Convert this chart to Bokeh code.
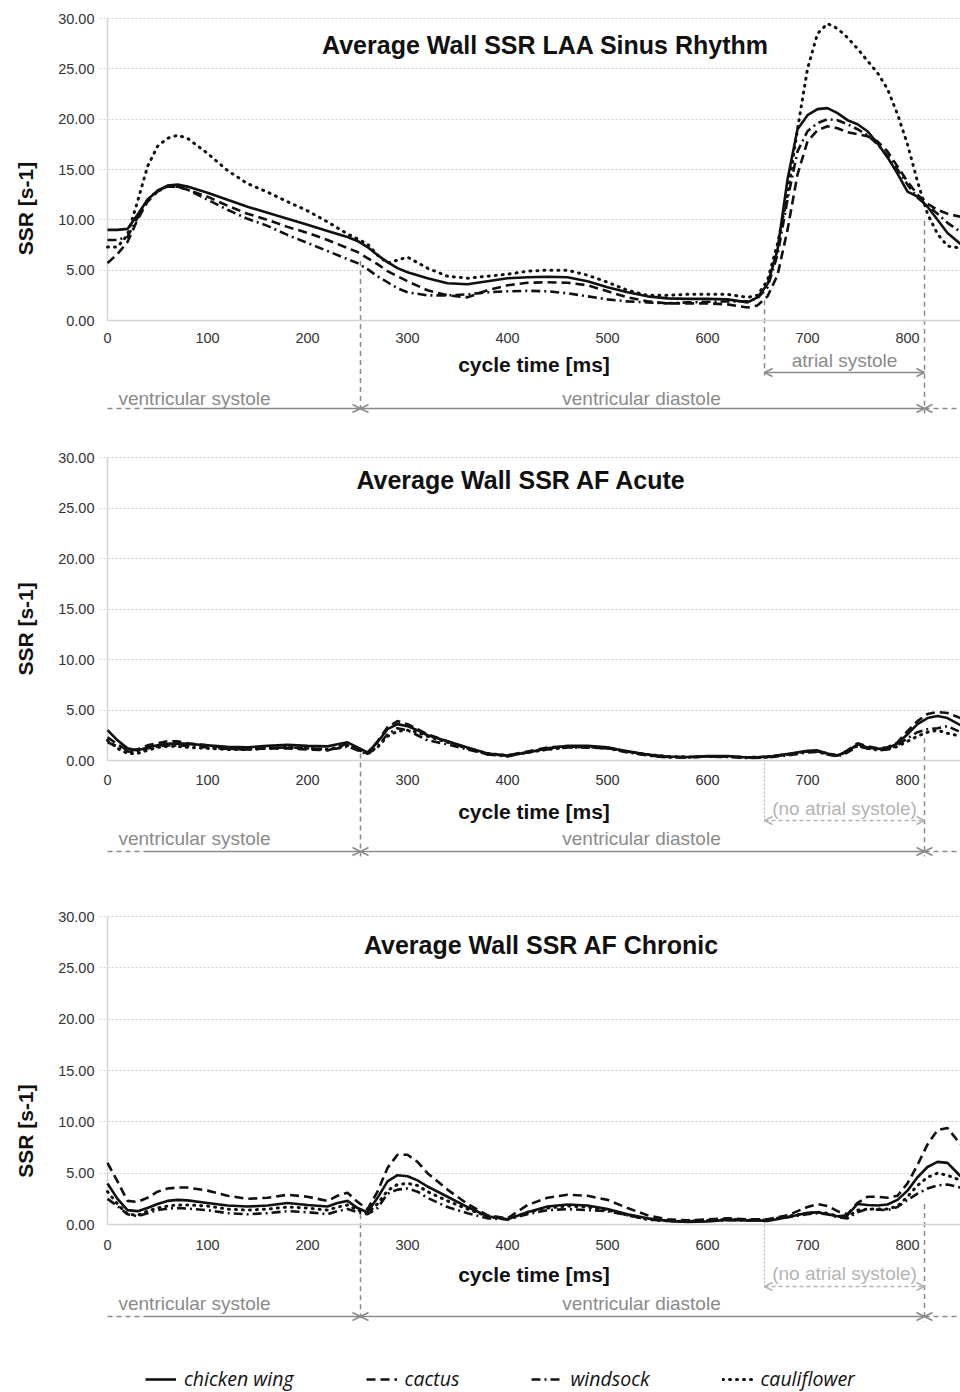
from bokeh.plotting import figure
from bokeh.layouts import column, row
from bokeh.models import (Range1d, FixedTicker, PrintfTickFormatter, Label, Arrow,
                          OpenHead, Legend, LegendItem)
from bokeh.core.properties import value
from bokeh.embed import file_html
from bokeh.resources import INLINE
import math

# ---------------- data ----------------
series_names = ["chicken wing", "cactus", "windsock", "cauliflower"]
x_ticks = [0, 100, 200, 300, 400, 500, 600, 700, 800]
y_ticks = [0, 5, 10, 15, 20, 25, 30]
titles = ["Average Wall SSR LAA Sinus Rhythm", "Average Wall SSR AF Acute",
          "Average Wall SSR AF Chronic"]
x_label = "cycle time [ms]"
y_label = "SSR [s-1]"
phase_labels = ["ventricular systole", "ventricular diastole"]
atrial_labels = ["atrial systole", "(no atrial systole)", "(no atrial systole)"]
phase_bounds = [253, 657, 817]   # end of systole, start of atrial systole, end of cycle (ms)

T1 = [0, 10, 20, 30, 40, 50, 60, 70, 80, 100, 120, 140, 160, 180, 200, 220, 240,
      250, 260, 270, 280, 290, 300, 320, 340, 360, 380, 400, 420, 440, 460, 480, 500,
      520, 540, 560, 580, 600, 620, 640, 650, 660, 670, 680, 690, 700, 710, 720, 730,
      740, 750, 760, 770, 780, 790, 800, 810, 820, 830, 840, 853]
cw1 = [9.0, 9.0, 9.1, 10.5, 12.0, 12.9, 13.4, 13.5, 13.3, 12.7, 12.0, 11.3, 10.7, 10.1, 9.5, 8.9, 8.3,
       7.9, 7.3, 6.5, 5.8, 5.2, 4.8, 4.2, 3.7, 3.6, 3.9, 4.2, 4.3, 4.35, 4.3, 3.9, 3.3,
       2.8, 2.4, 2.2, 2.15, 2.15, 2.1, 1.8, 2.3, 3.6, 7.0, 14.0, 19.0, 20.4, 21.0, 21.1, 20.6,
       19.9, 19.5, 18.8, 17.6, 16.2, 14.6, 12.8, 12.3, 11.3, 10.0, 8.7, 7.6]
ca1 = [5.7, 6.6, 7.8, 10.0, 11.8, 12.8, 13.3, 13.3, 13.0, 12.3, 11.4, 10.6, 10.0, 9.3, 8.7, 8.0, 7.2,
       6.8, 6.2, 5.6, 4.9, 4.4, 3.9, 3.0, 2.5, 2.3, 3.0, 3.5, 3.75, 3.8, 3.75, 3.5, 2.9,
       2.3, 1.9, 1.7, 1.7, 1.7, 1.6, 1.3, 1.5, 2.4, 4.5, 9.0, 14.5, 17.8, 18.9, 19.3, 19.1,
       18.7, 18.5, 18.3, 17.8, 16.8, 15.3, 13.8, 12.5, 11.6, 11.0, 10.6, 10.3]
ws1 = [8.0, 8.0, 8.3, 10.2, 12.0, 12.9, 13.3, 13.3, 13.0, 12.0, 11.0, 10.1, 9.4, 8.5, 7.7, 6.9, 6.1,
       5.7, 5.1, 4.4, 3.8, 3.2, 2.8, 2.5, 2.5, 2.6, 2.8, 2.9, 2.95, 2.9, 2.7, 2.4, 2.1,
       1.9, 1.8, 1.7, 1.8, 1.85, 1.9, 1.9, 2.2, 3.3, 6.5, 12.0, 16.8, 18.8, 19.6, 20.0, 19.9,
       19.5, 19.0, 18.4, 17.5, 16.4, 15.0, 13.5, 12.2, 11.4, 10.6, 9.7, 8.8]
cf1 = [7.3, 7.3, 8.5, 11.8, 15.3, 17.3, 18.1, 18.4, 18.1, 16.6, 14.9, 13.6, 12.75, 11.8, 10.9, 9.8, 8.6,
       8.1, 7.6, 6.5, 5.7, 6.0, 6.3, 5.2, 4.4, 4.2, 4.4, 4.6, 4.9, 5.0, 5.0, 4.5, 3.8,
       3.0, 2.5, 2.5, 2.6, 2.6, 2.6, 2.3, 2.5, 4.0, 7.6, 12.5, 19.0, 25.0, 28.5, 29.5, 29.0,
       28.1, 27.0, 25.8, 24.6, 23.0, 20.5, 17.5, 13.8, 10.6, 8.6, 7.4, 7.2]

T2 = [0, 10, 20, 30, 40, 50, 60, 70, 80, 100, 120, 140, 160, 180, 200, 220, 230, 240,
      250, 260, 270, 280, 290, 300, 310, 320, 340, 360, 380, 400, 420, 440, 460, 480,
      500, 520, 540, 560, 580, 600, 620, 640, 660, 680, 700, 710, 720, 730, 740, 750,
      760, 770, 780, 790, 800, 810, 820, 830, 840, 853]
cw2 = [3.0, 2.0, 1.2, 1.0, 1.3, 1.5, 1.65, 1.7, 1.65, 1.5, 1.35, 1.3, 1.45, 1.55, 1.45, 1.4, 1.6, 1.8,
       1.3, 0.8, 1.8, 3.1, 3.6, 3.4, 3.0, 2.5, 1.9, 1.3, 0.7, 0.5, 0.8, 1.2, 1.45, 1.45,
       1.3, 0.9, 0.6, 0.4, 0.35, 0.45, 0.45, 0.3, 0.35, 0.65, 0.95, 1.0, 0.7, 0.5, 0.9, 1.6,
       1.3, 1.15, 1.2, 1.7, 2.6, 3.6, 4.2, 4.4, 4.2, 3.5]
ca2 = [2.3, 1.6, 1.0, 1.1, 1.5, 1.7, 1.9, 1.9, 1.7, 1.5, 1.2, 1.1, 1.2, 1.2, 1.1, 1.0, 1.3, 1.7,
       1.2, 0.7, 1.9, 3.3, 3.9, 3.6, 3.1, 2.6, 1.9, 1.2, 0.6, 0.5, 0.9, 1.3, 1.4, 1.3,
       1.2, 0.9, 0.5, 0.35, 0.3, 0.4, 0.4, 0.3, 0.4, 0.6, 0.9, 0.9, 0.7, 0.5, 1.0, 1.7,
       1.4, 1.2, 1.3, 1.8, 2.9, 3.9, 4.6, 4.8, 4.7, 4.2]
ws2 = [1.8, 1.4, 0.9, 0.8, 1.2, 1.4, 1.5, 1.5, 1.45, 1.3, 1.15, 1.1, 1.2, 1.3, 1.2, 1.1, 1.2, 1.4,
       1.0, 0.6, 1.4, 2.6, 3.2, 3.0, 2.5, 2.0, 1.6, 1.1, 0.6, 0.4, 0.8, 1.1, 1.3, 1.3,
       1.2, 0.8, 0.5, 0.3, 0.3, 0.4, 0.35, 0.25, 0.3, 0.5, 0.8, 0.85, 0.6, 0.4, 0.8, 1.4,
       1.2, 1.0, 1.1, 1.5, 2.2, 2.8, 3.1, 3.2, 3.4, 2.8]
cf2 = [2.0, 1.2, 0.7, 0.7, 1.0, 1.3, 1.4, 1.4, 1.3, 1.2, 1.1, 1.1, 1.2, 1.3, 1.2, 1.1, 1.3, 1.5,
       1.1, 0.7, 1.3, 2.4, 2.9, 3.0, 2.8, 2.4, 1.8, 1.2, 0.7, 0.5, 0.8, 1.1, 1.3, 1.35,
       1.25, 0.9, 0.6, 0.4, 0.35, 0.4, 0.4, 0.3, 0.35, 0.6, 0.9, 0.9, 0.6, 0.5, 0.9, 1.5,
       1.2, 1.1, 1.1, 1.4, 1.9, 2.4, 2.8, 3.0, 2.7, 2.4]

T3 = T2
cw3 = [4.0, 2.5, 1.4, 1.3, 1.6, 2.0, 2.3, 2.4, 2.35, 2.1, 1.85, 1.75, 1.85, 2.1, 1.9, 1.75, 2.1, 2.3,
       1.6, 1.2, 2.6, 4.2, 4.8, 4.7, 4.3, 3.7, 2.7, 1.7, 0.8, 0.5, 1.2, 1.75, 1.95, 1.85,
       1.5, 1.0, 0.6, 0.35, 0.25, 0.3, 0.45, 0.4, 0.35, 0.7, 1.15, 1.2, 1.0, 0.8, 0.9, 2.0,
       1.9, 1.85, 1.95, 2.4, 3.3, 4.6, 5.6, 6.1, 6.0, 4.7]
ca3 = [6.0, 4.2, 2.3, 2.2, 2.6, 3.2, 3.5, 3.6, 3.6, 3.3, 2.8, 2.5, 2.6, 2.9, 2.7, 2.3, 2.8, 3.1,
       2.2, 1.5, 3.2, 5.5, 6.8, 6.8, 6.1, 5.0, 3.4, 2.0, 0.9, 0.6, 1.9, 2.6, 2.9, 2.8,
       2.4, 1.6, 0.9, 0.5, 0.4, 0.5, 0.6, 0.5, 0.5, 0.9, 1.7, 2.0, 1.8, 1.3, 1.0, 2.1,
       2.7, 2.7, 2.6, 2.8, 4.0, 5.8, 7.8, 9.2, 9.4, 7.8]
ws3 = [2.5, 1.8, 1.0, 0.8, 1.1, 1.4, 1.55, 1.6, 1.55, 1.4, 1.1, 1.0, 1.1, 1.3, 1.2, 1.0, 1.3, 1.5,
       1.2, 1.0, 1.6, 3.0, 3.4, 3.5, 3.2, 2.6, 1.7, 1.1, 0.6, 0.5, 1.0, 1.4, 1.5, 1.4,
       1.3, 0.9, 0.5, 0.35, 0.3, 0.4, 0.45, 0.4, 0.45, 0.7, 1.0, 1.1, 1.0, 0.7, 0.6, 1.2,
       1.5, 1.45, 1.4, 1.7, 2.4, 3.0, 3.5, 3.8, 3.9, 3.6]
cf3 = [3.2, 2.0, 1.0, 0.9, 1.3, 1.6, 1.8, 1.9, 1.9, 1.8, 1.5, 1.4, 1.5, 1.7, 1.6, 1.4, 1.7, 1.9,
       1.4, 1.1, 2.0, 3.3, 3.9, 4.0, 3.8, 3.2, 2.3, 1.5, 0.8, 0.5, 1.2, 1.6, 1.8, 1.7,
       1.4, 0.9, 0.5, 0.35, 0.3, 0.4, 0.5, 0.45, 0.45, 0.8, 1.1, 1.2, 1.1, 0.8, 0.7, 1.4,
       1.5, 1.5, 1.5, 1.8, 2.7, 3.8, 4.6, 5.0, 4.8, 4.3]

# ---------------- styling ----------------
FONT = "Liberation Sans"
GRAY = "#8a8a8a"
LIGHT = "#b4b4b4"
AXIS = "#d4d4d4"
styles = [dict(line_dash="solid", line_width=2.6, line_cap="butt"),
          dict(line_dash="9 5", line_width=2.6, line_cap="butt"),
          dict(line_dash="9 4 2 4", line_width=2.6, line_cap="butt"),
          dict(line_dash="1 6", line_width=3.0, line_cap="round")]

panels = [
    dict(t=T1, ys=[cw1, ca1, ws1, cf1], H=430, top=15, y30=18, y0=320,
         title_x=438, title_dy=26, offs=(40, 52, 78, 88), vtops=(5.9, 2.0, 9.9), atrial=True,
         tick_so=12, lab_so=7, ylab_py=200),
    dict(t=T2, ys=[cw2, ca2, ws2, cf2], H=460, top=24, y30=27, y0=330,
         title_x=414, title_dy=22, offs=(48, 60, 78, 91), vtops=(0.7, 0.5, 2.2), atrial=False,
         tick_so=14, lab_so=12, ylab_py=184),
    dict(t=T3, ys=[cw3, ca3, ws3, cf3], H=502, top=23, y30=26, y0=334,
         title_x=434, title_dy=28, offs=(49, 62, 79, 92), vtops=(1.0, 0.3, 2.0), atrial=False,
         tick_so=15, lab_so=10, ylab_py=228),
]

XMIN, XMAX = -8, 853
LABW = 40          # width of the strip holding the vertical axis title
LEFT = 99          # left edge of the plotting frame
rows = []
for i, P in enumerate(panels):
    s = (P["y0"] - P["y30"]) / 30.0
    hi = 30 + (P["y30"] - P["top"]) / s
    lo = -(P["H"] - P["y0"]) / s

    # strip with the vertical axis title
    q = figure(width=LABW, height=P["H"], x_range=Range1d(0, LABW), y_range=Range1d(0, P["H"]),
               toolbar_location=None, output_backend="svg", x_axis_location=None,
               y_axis_location=None, min_border=0)
    q.outline_line_color = None
    q.grid.visible = False
    q.text(x=[25], y=[P["H"] - P["ylab_py"]], text=[y_label], angle=math.pi / 2,
           text_align="center", text_baseline="middle", text_font=value(FONT),
           text_font_size="21px", text_font_style="bold", text_color="#111111")

    p = figure(width=960 - LABW, height=P["H"], x_range=Range1d(XMIN, XMAX),
               y_range=Range1d(lo, hi), toolbar_location=None, output_backend="svg",
               min_border_left=LEFT - LABW, min_border_right=0, min_border_top=P["top"],
               min_border_bottom=0)
    p.outline_line_color = None
    p.background_fill_color = "white"
    p.border_fill_color = "white"

    # axes
    p.xaxis.fixed_location = 0
    p.xaxis.ticker = FixedTicker(ticks=x_ticks)
    p.xaxis.bounds = (0, XMAX)
    p.xaxis.axis_label = x_label
    p.yaxis.ticker = FixedTicker(ticks=y_ticks)
    p.yaxis.formatter = PrintfTickFormatter(format="%.2f")
    p.yaxis.bounds = (0, 30)
    for ax in (p.xaxis[0], p.yaxis[0]):
        ax.axis_line_color = AXIS
        ax.axis_line_width = 1.5
        ax.major_tick_out = 0
        ax.major_tick_in = 0
        ax.minor_tick_out = 0
        ax.minor_tick_in = 0
        ax.major_label_text_font = FONT
        ax.major_label_text_font_size = "14.5px"
        ax.major_label_text_color = "#333333"
        ax.axis_label_text_font = FONT
        ax.axis_label_text_font_size = "21px"
        ax.axis_label_text_font_style = "bold"
        ax.axis_label_text_color = "#111111"
    p.yaxis.axis_line_color = None
    p.xaxis.major_label_standoff = P["tick_so"]
    p.xaxis.axis_label_standoff = P["lab_so"]
    p.yaxis.major_label_standoff = 5

    p.xgrid.visible = False
    p.ygrid.ticker = FixedTicker(ticks=y_ticks[1:])
    p.ygrid.grid_line_color = "#cfcfcf"
    p.ygrid.grid_line_dash = "2 2"
    p.ygrid.grid_line_width = 1

    # vertical value-axis line at x = 0
    p.segment(x0=[0], y0=[0], x1=[0], y1=[30], line_color=AXIS, line_width=1.5)

    # title
    p.add_layout(Label(x=P["title_x"], y=30 - P["title_dy"] / s, text=titles[i],
                       text_align="center", text_baseline="middle", text_font=FONT,
                       text_font_size="25px", text_font_style="bold", text_color="#111111"))

    # phase annotations
    o_at_txt, o_at_arr, o_vs_txt, o_row = [-o / s for o in P["offs"]]
    bottom = o_row - 5 / s
    t_sys, t_atr, t_end = phase_bounds
    vt_sys, vt_atr, vt_end = P["vtops"]
    p.segment(x0=[t_sys, t_end], y0=[vt_sys, vt_end], x1=[t_sys, t_end], y1=[bottom, bottom],
              line_color=GRAY, line_width=1.5, line_dash="5 4")
    if P["atrial"]:
        p.segment(x0=[t_atr], y0=[vt_atr], x1=[t_atr], y1=[o_at_arr - 3 / s],
                  line_color=GRAY, line_width=1.5, line_dash="5 4")
        acol, adash = GRAY, "solid"
    else:
        p.segment(x0=[t_atr], y0=[vt_atr], x1=[t_atr], y1=[o_at_arr - 3 / s],
                  line_color=LIGHT, line_width=1.2, line_dash="2 2")
        acol, adash = LIGHT, "4 3"
    p.add_layout(Arrow(x_start=t_atr, y_start=o_at_arr, x_end=t_end, y_end=o_at_arr,
                       line_color=acol, line_width=1.5, line_dash=adash,
                       start=OpenHead(size=8, line_color=acol, line_width=1.5),
                       end=OpenHead(size=8, line_color=acol, line_width=1.5)))
    p.add_layout(Label(x=(t_atr + t_end) / 2, y=o_at_txt, text=atrial_labels[i],
                       text_align="center", text_baseline="middle", text_font=FONT,
                       text_font_size="19px", text_color=GRAY if P["atrial"] else LIGHT))

    # ventricular row
    p.segment(x0=[0, t_end], y0=[o_row, o_row], x1=[36, XMAX], y1=[o_row, o_row],
              line_color=GRAY, line_width=1.5, line_dash="5 4")
    p.add_layout(Arrow(x_start=36, y_start=o_row, x_end=t_sys, y_end=o_row,
                       line_color=GRAY, line_width=1.5, start=None,
                       end=OpenHead(size=8, line_color=GRAY, line_width=1.5)))
    p.add_layout(Arrow(x_start=t_sys, y_start=o_row, x_end=t_end, y_end=o_row,
                       line_color=GRAY, line_width=1.5,
                       start=OpenHead(size=8, line_color=GRAY, line_width=1.5),
                       end=OpenHead(size=8, line_color=GRAY, line_width=1.5)))
    p.add_layout(Arrow(x_start=t_end, y_start=o_row, x_end=XMAX + 5, y_end=o_row,
                       line_color=GRAY, line_width=1.5, line_alpha=0,
                       start=OpenHead(size=8, line_color=GRAY, line_width=1.5), end=None))
    p.add_layout(Label(x=87, y=o_vs_txt, text=phase_labels[0], text_align="center",
                       text_baseline="middle", text_font=FONT, text_font_size="19px",
                       text_color=GRAY))
    p.add_layout(Label(x=534, y=o_vs_txt, text=phase_labels[1], text_align="center",
                       text_baseline="middle", text_font=FONT, text_font_size="19px",
                       text_color=GRAY))

    # curves
    rs = []
    for name, yv, st in zip(series_names, P["ys"], styles):
        r = p.line(P["t"], yv, line_color="#111111", **st)
        rs.append(r)

    if i == 2:
        legend = Legend(items=[LegendItem(label=n, renderers=[r]) for n, r in zip(series_names, rs)],
                        orientation="horizontal", location=(46, 0),
                        label_text_font="Open Sans", label_text_font_style="italic",
                        label_text_font_size="19.5px", label_text_color="#111111",
                        glyph_width=31, glyph_height=20, label_standoff=8, spacing=72,
                        padding=0, margin=0, border_line_color=None,
                        background_fill_alpha=0)
        p.add_layout(legend)
    rows.append(row(q, p, spacing=0))

layout = column(*rows, spacing=0)
open("out.html", "w").write(file_html(layout, INLINE))
